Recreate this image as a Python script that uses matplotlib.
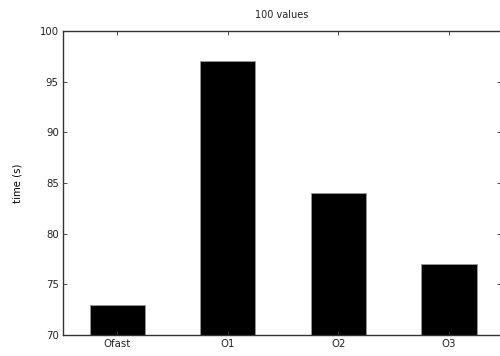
import matplotlib
matplotlib.use("Agg")
import matplotlib.pyplot as plt

# data
labels = ["Ofast", "O1", "O2", "O3"]
times = [73, 97, 84, 77]
yticks = [70, 75, 80, 85, 90, 95, 100]

plt.rcParams['font.family'] = ['DejaVu Sans']
plt.rcParams['font.size'] = 7.3
plt.rcParams['text.color'] = "#222222"
plt.rcParams['xtick.labelcolor'] = "#222222"
plt.rcParams['ytick.labelcolor'] = "#222222"

fig = plt.figure(figsize=(5, 3.56), dpi=100)
W, H = 500, 356
ax = fig.add_axes([63 / W, 1 - 335 / H, (501 - 63) / W, (335 - 31) / H])

x = list(range(len(labels)))
ax.bar(x, times, width=0.5, bottom=0, color="black", edgecolor="#999999", linewidth=0.6)

ax.set_xlim(-0.49, 3.47)
ax.set_ylim(70, 100)
ax.set_yticks(yticks)
ax.set_xticks(x)
ax.set_xticklabels(labels)

ax.tick_params(direction="in", length=3, width=0.6, color="#333333",
               top=True, right=True, pad=3)
for s in ax.spines.values():
    s.set_linewidth(1.0)
    s.set_color("#333333")

ax.set_ylabel("time (s)", labelpad=12.5)
ax.set_title("100 values", pad=9, fontsize=7.0)

fig.savefig("out.png", dpi=100)
